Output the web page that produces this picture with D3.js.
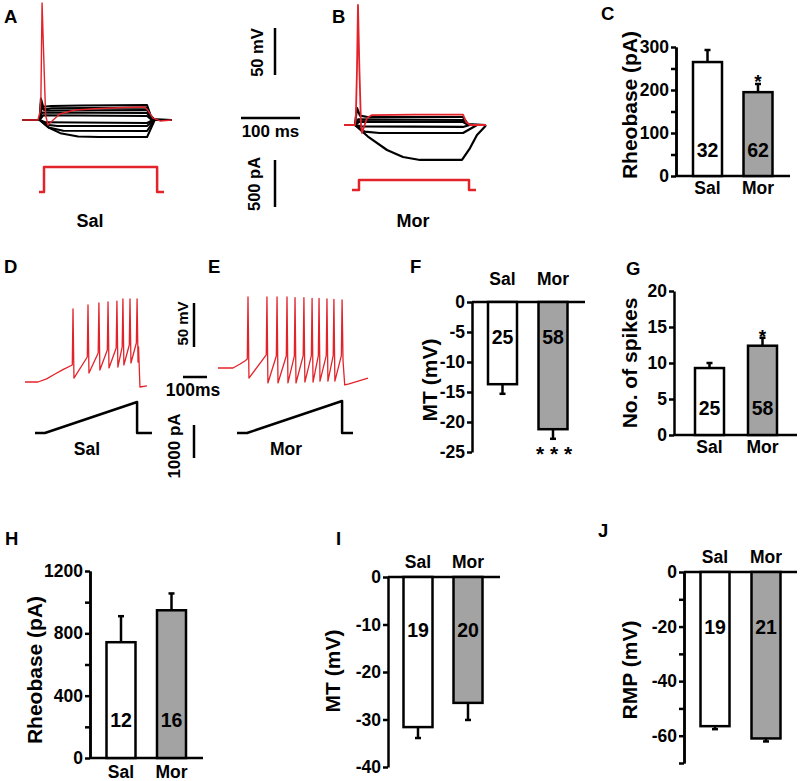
<!DOCTYPE html>
<html><head><meta charset="utf-8">
<script src="https://cdn.jsdelivr.net/npm/d3@7"></script>
<style>
body{margin:0;background:#fff}
svg text{font-family:"Liberation Sans",Arial,sans-serif;font-weight:bold;fill:#000}
</style></head>
<body><svg id="c" width="800" height="781"></svg>
<script>
// ---------------- DATA ----------------
const groups = ["Sal", "Mor"];

// Panel A (Sal) : step-current traces, [ms, mV]
const A_red = [[0,-60],[27,-60],[30.5,-51.5],[32,-38.7],[34,64.5],[37,4],[40,-54.7],[44,-65.3],[51,-61],[64,-53.6],[90,-49.4],[132,-47.8],[175,-46.7],[208,-46.2],[213,-49.4],[222,-57.9],[234,-61],[254,-60]];
const A_black = [
 [[0,-60],[30,-60],[32,-37],[36,-46],[50,-45],[100,-44.5],[212,-44],[218,-55],[225,-60],[254,-60]],
 [[0,-60],[30,-60],[32,-42],[36,-49],[50,-47.5],[212,-46.7],[218,-56],[225,-60],[254,-60]],
 [[0,-60],[30,-60],[33,-46],[40,-50],[212,-49.4],[219,-58],[225,-60],[254,-60]],
 [[0,-60],[30,-60],[34,-52],[212,-52.6],[220,-59],[254,-60]],
 [[0,-60],[30,-60],[36,-55],[212,-55.7],[220,-60],[254,-60]],
 [[0,-60],[30,-60],[40,-62.5],[212,-63.2],[222,-60],[254,-60]],
 [[0,-60],[30,-60],[42,-65],[60,-66.4],[212,-66.4],[223,-60],[254,-60]],
 [[0,-60],[30,-60],[45,-68],[70,-71.5],[212,-71.7],[224,-60],[254,-60]],
 [[0,-60],[30,-60],[45,-68],[65,-74],[95,-77.5],[130,-78.1],[212,-78.1],[225,-60],[254,-60]]
];
const A_current = [[28.8,0],[37.3,0],[37.3,266],[229,266],[229,0],[240.7,0]]; // [ms, pA]

// Panel B (Mor)
const B_red = [[0,-60],[18.6,-60],[20,-52.6],[22,-2],[23.7,67.7],[26,2],[28.8,-60],[30.5,-68.5],[39,-52.6],[47.5,-49.4],[120,-49],[201.7,-49],[207,-56.8],[213.6,-60],[240.7,-60]];
const B_black = [
 [[0,-60],[18.6,-60],[22,-41.9],[27,-50],[40,-51.5],[201.7,-51.5],[210,-59],[240.7,-60]],
 [[0,-60],[18.6,-60],[24,-54],[201.7,-54.7],[210,-60],[240.7,-60]],
 [[0,-60],[18.6,-60],[26,-56.5],[201.7,-56.8],[211,-60],[240.7,-60]],
 [[0,-60],[18.6,-60],[30,-61.5],[201.7,-62.1],[213,-60],[240.7,-60]],
 [[0,-60],[18.6,-60],[35,-67],[60,-68.5],[201.7,-68.5],[225.4,-60],[240.7,-60]],
 [[0,-60],[18.6,-60],[40,-72],[72.9,-86.6],[100,-94],[128.8,-97.2],[200,-97.2],[213.6,-84.5],[225.4,-70.6],[239,-61.5],[240.7,-60]]
];
const B_current = [[13.6,0],[25.4,0],[25.4,106],[211.9,106],[211.9,0],[223.7,0]];

// Panel D (Sal) ramp-evoked firing
const D_start = [[0,-60],[54,-60],[90,-56.5],[125,-50.9],[160,-45.6]];
const D_spikeT = [200, 262.5, 308, 346, 383, 408, 437.5, 467];
const D_thresh = [-40.7, -31.6, -27, -23.6, -21.4, -20.2, -18, -15.7];
const D_peak = [23, 27.5, 29.8, 31, 32, 34.3, 34.3, 34.3];
const D_trough = [-55.5, -49.8, -46.4, -44, -43, -40.7, -38.4, -37.3];
const D_end = [[473,-20],[479,-65.7],[508,-64.5]];
const D_ramp = [[41.7,0],[83,0],[467,939],[467,0],[529,0]];

// Panel E (Mor)
const E_start = [[0,-60],[62.5,-60],[92,-55.5],[112,-52]];
const E_spikeT = [125, 204, 246, 287.5, 321, 358, 392, 421, 454, 483, 517];
const E_thresh = [-49.8, -45.2, -46.4, -46.4, -46.4, -46, -46, -46, -46, -46, -46];
const E_peak = [20.7, 20.7, 20.7, 20.7, 20, 20, 19, 19, 18.5, 18, 17.5];
const E_trough = [-71.4, -77, -77, -77, -77, -76, -76, -75, -75, -75, -52];
const E_end = [[528,-79.3],[546,-78],[625,-71.4]];
const E_ramp = [[79,0],[121,0],[517,970],[517,0],[562.5,0]];

// Bar charts: means, SEM, n
const C_vals = [265, 195], C_err = [28, 19], C_n = ["32", "62"];
const F_vals = [-13.7, -21.2], F_err = [1.6, 1.6], F_n = ["25", "58"];
const G_vals = [9.3, 12.4], G_err = [0.7, 1.1], G_n = ["25", "58"];
const H_vals = [743, 948], H_err = [167, 108], H_n = ["12", "16"];
const I_vals = [-31.6, -26.5], I_err = [2.3, 3.6], I_n = ["19", "20"];
const J_vals = [-56.5, -61], J_err = [1.1, 1.1], J_n = ["19", "21"];

const C_ticks = [0,100,200,300], C_minor = [50,150,250];
const F_ticks = [0,-5,-10,-15,-20,-25];
const G_ticks = [0,5,10,15,20];
const H_ticks = [0,400,800,1200], H_minor = [200,600,1000];
const I_ticks = [0,-10,-20,-30,-40];
const J_ticks = [0,-20,-40,-60], J_minor = [-10,-30,-50,-70];

// ---------------- DRAW ----------------
const RED = "#e2232a", GRAY = "#a3a3a3";
const svg = d3.select("#c");
svg.append("rect").attr("width",800).attr("height",781).attr("fill","#fff");

function text(x, y, s, size, anchor="start", rot=false) {
  const t = svg.append("text").attr("font-size", size).attr("text-anchor", anchor).text(s);
  if (rot) t.attr("transform", `translate(${x},${y}) rotate(-90)`);
  else t.attr("x", x).attr("y", y);
  return t;
}
function trace(data, xs, ys, color, w) {
  svg.append("path").datum(data)
    .attr("d", d3.line().x(d => xs(d[0])).y(d => ys(d[1])))
    .attr("fill","none").attr("stroke", color).attr("stroke-width", w)
    .attr("stroke-linejoin","round");
}
function spikeTrain(start, T, th, pk, tr, end) {
  const pts = start.slice();
  T.forEach((t,i) => { pts.push([t-3, th[i]], [t, pk[i]], [t+4, tr[i]]); });
  return pts.concat(end);
}

// Panel A
const xA = d3.scaleLinear().domain([0,100]).range([22,81]);
const yA = d3.scaleLinear().domain([-60,-10]).range([120,73]);
const yAI = d3.scaleLinear().domain([0,500]).range([192,145]);
A_black.forEach(tr => trace(tr, xA, yA, "#000", 2));
trace(A_red, xA, yA, RED, 1.4);
trace(A_current, xA, yAI, RED, 2.5);

// Panel B
const xB = d3.scaleLinear().domain([0,100]).range([344,403]);
const yB = d3.scaleLinear().domain([-60,-10]).range([125,78]);
const yBI = d3.scaleLinear().domain([0,500]).range([190,143]);
B_black.forEach(tr => trace(tr, xB, yB, "#000", 2.2));
trace(B_red, xB, yB, RED, 1.8);
trace(B_current, xB, yBI, RED, 2.5);

// A/B scale bars
const sbx = 275;
svg.append("line").attr("x1",sbx).attr("x2",sbx).attr("y1",28).attr("y2",28 + (yA(-60)-yA(-10))).attr("stroke","#000").attr("stroke-width",2.5);
svg.append("line").attr("x1",241).attr("x2",241 + (xA(100)-xA(0))).attr("y1",118).attr("y2",118).attr("stroke","#000").attr("stroke-width",2.5);
svg.append("line").attr("x1",sbx).attr("x2",sbx).attr("y1",160).attr("y2",160 + (yAI(0)-yAI(500))).attr("stroke","#000").attr("stroke-width",2.5);
text(263, 52.5, "50 mV", 16.5, "middle", true);
text(270.5, 137, "100 ms", 17, "middle");
text(260, 184, "500 pA", 16.5, "middle", true);
text(90, 227, "Sal", 18, "middle");
text(413, 227, "Mor", 18, "middle");

// Panel D
const xD = d3.scaleLinear().domain([0,100]).range([25,49]);
const yD = d3.scaleLinear().domain([-60,-10]).range([382,338]);
const yDI = d3.scaleLinear().domain([0,1000]).range([433,400]);
trace(spikeTrain(D_start, D_spikeT, D_thresh, D_peak, D_trough, D_end), xD, yD, RED, 1.3);
trace(D_ramp, xD, yDI, "#000", 2.5);

// Panel E
const xE = d3.scaleLinear().domain([0,100]).range([218,242]);
const yE = d3.scaleLinear().domain([-60,-10]).range([368,324]);
const yEI = d3.scaleLinear().domain([0,1000]).range([433,400]);
trace(spikeTrain(E_start, E_spikeT, E_thresh, E_peak, E_trough, E_end), xE, yE, RED, 1.3);
trace(E_ramp, xE, yEI, "#000", 2.5);

// D/E scale bars
svg.append("line").attr("x1",194).attr("x2",194).attr("y1",303).attr("y2",303 + (yD(-60)-yD(-10))).attr("stroke","#000").attr("stroke-width",2.5);
svg.append("line").attr("x1",183).attr("x2",183 + (xD(100)-xD(0))).attr("y1",377).attr("y2",377).attr("stroke","#000").attr("stroke-width",2.5);
svg.append("line").attr("x1",194).attr("x2",194).attr("y1",425).attr("y2",425 + (yDI(0)-yDI(1000))).attr("stroke","#000").attr("stroke-width",2.5);
text(188, 323.5, "50 mV", 15, "middle", true);
text(193, 396, "100ms", 17.5, "middle");
text(180, 446, "1000 pA", 17, "middle", true);
text(87, 455, "Sal", 17.5, "middle");
text(286, 455, "Mor", 17.5, "middle");

// Bar panels
function barPanel(o) {
  const y = d3.scaleLinear().domain(o.domain).range(o.range);
  const x = d3.scalePoint().domain(groups).range(o.centers);
  const bw = 29;
  const g = svg.append("g");
  g.append("line").attr("x1", o.axisX).attr("x2", o.xEnd).attr("y1", y(0)).attr("y2", y(0))
    .attr("stroke","#000").attr("stroke-width",2.5);
  groups.forEach((c,i) => {
    const v = o.vals[i], cx = x(c);
    const sgn = v >= 0 ? 1 : -1;
    const ev = y(v + sgn*o.err[i]);
    g.append("line").attr("x1",cx).attr("x2",cx).attr("y1",y(v)).attr("y2",ev).attr("stroke","#000").attr("stroke-width",2.5);
    g.append("line").attr("x1",cx-3).attr("x2",cx+3).attr("y1",ev).attr("y2",ev).attr("stroke","#000").attr("stroke-width",2.5);
    g.append("rect").attr("x", cx-bw/2).attr("y", Math.min(y(0),y(v))).attr("width", bw)
      .attr("height", Math.abs(y(v)-y(0))).attr("fill", i===0 ? "#fff" : GRAY)
      .attr("stroke","#000").attr("stroke-width",2.5);
    text(cx, o.nY, o.n[i], 19.5, "middle");
    text(cx, o.catY, c, 17.5, "middle");
  });
  const ax = svg.append("g").attr("transform",`translate(${o.axisX},0)`)
    .call(d3.axisLeft(y).tickValues(o.ticks).tickSize(5).tickSizeOuter(0).tickPadding(2).tickFormat(d => String(d)));
  if (o.minor) ax.call(g2 => g2.append("g").call(d3.axisLeft(y).tickValues(o.minor).tickSize(5).tickSizeOuter(0).tickFormat("")));
  ax.selectAll("path,line").attr("stroke","#000").attr("stroke-width",2.5);
  ax.selectAll("text").attr("font-size",17.5).attr("fill","#000")
    .attr("font-family",'"Liberation Sans",Arial,sans-serif').attr("font-weight","bold");
  text(o.title[0], o.title[1], o.title[2], 21, "middle", true);
  if (o.star) text(o.star[0], o.star[1], o.star[2], o.starSize || 19, "middle");
}

barPanel({axisX:676, domain:[0,300], range:[176,47], centers:[707.5,758], xEnd:790,
  vals:C_vals, err:C_err, n:C_n, ticks:C_ticks, minor:C_minor, catY:194, nY:157,
  title:[637,105,"Rheobase (pA)"], star:[758,88,"*"]});
barPanel({axisX:472, domain:[-25,0], range:[452,302], centers:[502.5,553], xEnd:585,
  vals:F_vals, err:F_err, n:F_n, ticks:F_ticks, catY:285, nY:344,
  title:[437,380,"MT (mV)"], star:[554,461,"* * *"], starSize:21});
barPanel({axisX:674, domain:[0,20], range:[435,291], centers:[709.5,762.5], xEnd:797,
  vals:G_vals, err:G_err, n:G_n, ticks:G_ticks, catY:453, nY:415,
  title:[637,363,"No. of spikes"], star:[762.5,343,"*"]});
barPanel({axisX:90, domain:[0,1200], range:[758,571], centers:[121,171.5], xEnd:203,
  vals:H_vals, err:H_err, n:H_n, ticks:H_ticks, minor:H_minor, catY:778, nY:727,
  title:[42,670,"Rheobase (pA)"]});
barPanel({axisX:388, domain:[-40,0], range:[767,577], centers:[418,468], xEnd:500,
  vals:I_vals, err:I_err, n:I_n, ticks:I_ticks, catY:568, nY:637,
  title:[340,671,"MT (mV)"]});
barPanel({axisX:684, domain:[-70,0], range:[763,572], centers:[715,766], xEnd:797,
  vals:J_vals, err:J_err, n:J_n, ticks:J_ticks, minor:J_minor, catY:563, nY:634,
  title:[637,670,"RMP (mV)"]});

// Panel letters
[["A",4,23],["B",332,23],["C",601,20],["D",4,273],["E",208,273],["F",410,273],["G",626,275],["H",5,545],["I",336,545],["J",598,537]]
  .forEach(d => text(d[1], d[2], d[0], 18.5));
</script></body></html>
